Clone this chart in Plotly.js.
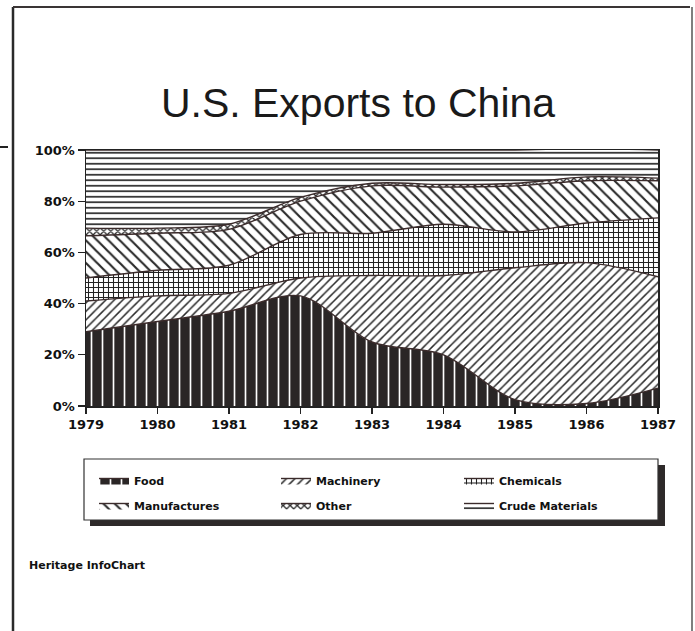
<!DOCTYPE html>
<html>
<head>
<meta charset="utf-8">
<script src="https://cdn.plot.ly/plotly-3.0.1.min.js"></script>
<style>html,body{margin:0;padding:0;background:#fff;}</style>
</head>
<body>
<div id="chart" style="width:695px;height:631px;"></div>
<script>
// Data (shares of U.S. exports to China, percent)
const years = [1979, 1980, 1981, 1982, 1983, 1984, 1985, 1986, 1987];
const food = [29, 33, 37, 43, 25, 20, 2.5, 1, 7];
const machinery = [12, 10, 7, 7, 26, 31, 51.5, 55, 43.5];
const chemicals = [9, 10, 11, 17, 16.5, 20, 14, 15.5, 23];
const manufactures = [16.5, 14.5, 14, 13, 18.5, 14.5, 18, 16.5, 14.5];
const other = [3, 2, 2, 1.5, 1, 1, 1, 1.5, 1];
const crude = [30.5, 30.5, 29, 18.5, 13, 13.5, 13, 11, 11];
const yTicks = [0, 20, 40, 60, 80, 100];
const yTickText = ['0%', '20%', '40%', '60%', '80%', '100%'];

const W = 695, H = 631, L = 86, R = 37, T = 150, B = 225;
const PW = W - L - R, PH = H - T - B;
const px = x => (x - L) / PW;
const py = y => 1 - (y - T) / PH;

const edge = {color: '#3b2b2b', width: 1.4, shape: 'spline', smoothing: 0.9};
function tr(name, y, legend, pattern) {
  return {
    type: 'scatter', mode: 'lines', x: years, y: y, name: name,
    stackgroup: 'one', line: edge, legend: legend, legendgroup: name,
    fillpattern: pattern, hoverinfo: 'skip'
  };
}
const data = [
  tr('Food', food, 'legend', {shape: '|', size: 11, solidity: 0.15, fgcolor: '#ffffff', bgcolor: '#2a2626', fillmode: 'replace'}),
  tr('Machinery', machinery, 'legend2', {shape: '/', size: 6, solidity: 0.25, fgcolor: '#2a2a2a', bgcolor: '#ffffff', fillmode: 'replace'}),
  tr('Chemicals', chemicals, 'legend3', {shape: '+', size: 5, solidity: 0.38, fgcolor: '#222222', bgcolor: '#ffffff', fillmode: 'replace'}),
  tr('Manufactures', manufactures, 'legend', {shape: '\\', size: 8, solidity: 0.27, fgcolor: '#2a2a2a', bgcolor: '#ffffff', fillmode: 'replace'}),
  tr('Other', other, 'legend2', {shape: 'x', size: 5, solidity: 0.45, fgcolor: '#2a2a2a', bgcolor: '#ffffff', fillmode: 'replace'}),
  tr('Crude Materials', crude, 'legend3', {shape: '-', size: 5.5, solidity: 0.33, fgcolor: '#3a3a3a', bgcolor: '#ffffff', fillmode: 'replace'})
];

const tickFont = {family: 'DejaVu Sans', size: 13, weight: 'bold', color: '#111'};
const legFont = {family: 'DejaVu Sans', size: 11, weight: 'bold', color: '#111'};
function leg(x) {
  return {x: x, y: py(466), xanchor: 'left', yanchor: 'top', orientation: 'v',
    bgcolor: 'rgba(0,0,0,0)', borderwidth: 0, font: legFont,
    traceorder: 'grouped', tracegroupgap: 6};
}

const layout = {
  width: W, height: H,
  margin: {l: L, r: R, t: T, b: B},
  paper_bgcolor: '#ffffff', plot_bgcolor: '#ffffff',
  showlegend: true,
  title: {text: 'U.S. Exports to China', xref: 'container', x: 358 / W, xanchor: 'center',
    yref: 'container', y: 1 - 103 / H, yanchor: 'middle',
    font: {family: 'Liberation Sans', size: 41, color: '#1a1a1a'}},
  xaxis: {range: [1979, 1987], tickvals: years, ticks: 'outside', ticklen: 6, tickwidth: 1.2,
    tickcolor: '#222', showline: true, mirror: true, linecolor: '#222', linewidth: 1.5,
    showgrid: false, zeroline: false, tickfont: tickFont, fixedrange: true},
  yaxis: {range: [0, 100], tickvals: yTicks, ticktext: yTickText, ticks: 'outside', ticklen: 7,
    tickwidth: 1.2, tickcolor: '#222', showline: true, mirror: true, linecolor: '#222', linewidth: 1.5,
    showgrid: false, zeroline: false, tickfont: tickFont, fixedrange: true},
  legend: leg(px(94)),
  legend2: leg(px(276)),
  legend3: leg(px(459)),
  shapes: [
    // outer frame
    {type: 'line', xref: 'paper', yref: 'paper', x0: px(13), x1: px(13), y0: py(7), y1: py(631), line: {color: '#2a2a2a', width: 2.5}},
    {type: 'line', xref: 'paper', yref: 'paper', x0: px(13), x1: px(690), y0: py(7), y1: py(7), line: {color: '#3a3535', width: 2}},
    {type: 'line', xref: 'paper', yref: 'paper', x0: px(692), x1: px(692), y0: py(7), y1: py(631), line: {color: '#555', width: 1.5}},
    {type: 'line', xref: 'paper', yref: 'paper', x0: px(0), x1: px(8), y0: py(147), y1: py(147), line: {color: '#222', width: 2}},
    // legend box shadow and box
    {type: 'rect', xref: 'paper', yref: 'paper', x0: px(90), x1: px(665), y0: py(465), y1: py(526), fillcolor: '#2e2a2a', line: {width: 0}},
    {type: 'rect', xref: 'paper', yref: 'paper', x0: px(84), x1: px(658), y0: py(459), y1: py(520), fillcolor: '#ffffff', line: {color: '#333', width: 1.2}}
  ],
  annotations: [
    {text: 'Heritage InfoChart', xref: 'paper', yref: 'paper', x: px(27), y: py(565), xanchor: 'left', yanchor: 'middle',
      showarrow: false, font: {family: 'DejaVu Sans', size: 11, weight: 'bold', color: '#111'}}
  ]
};

Plotly.newPlot('chart', data, layout, {displayModeBar: false, staticPlot: true});
</script>
</body>
</html>
